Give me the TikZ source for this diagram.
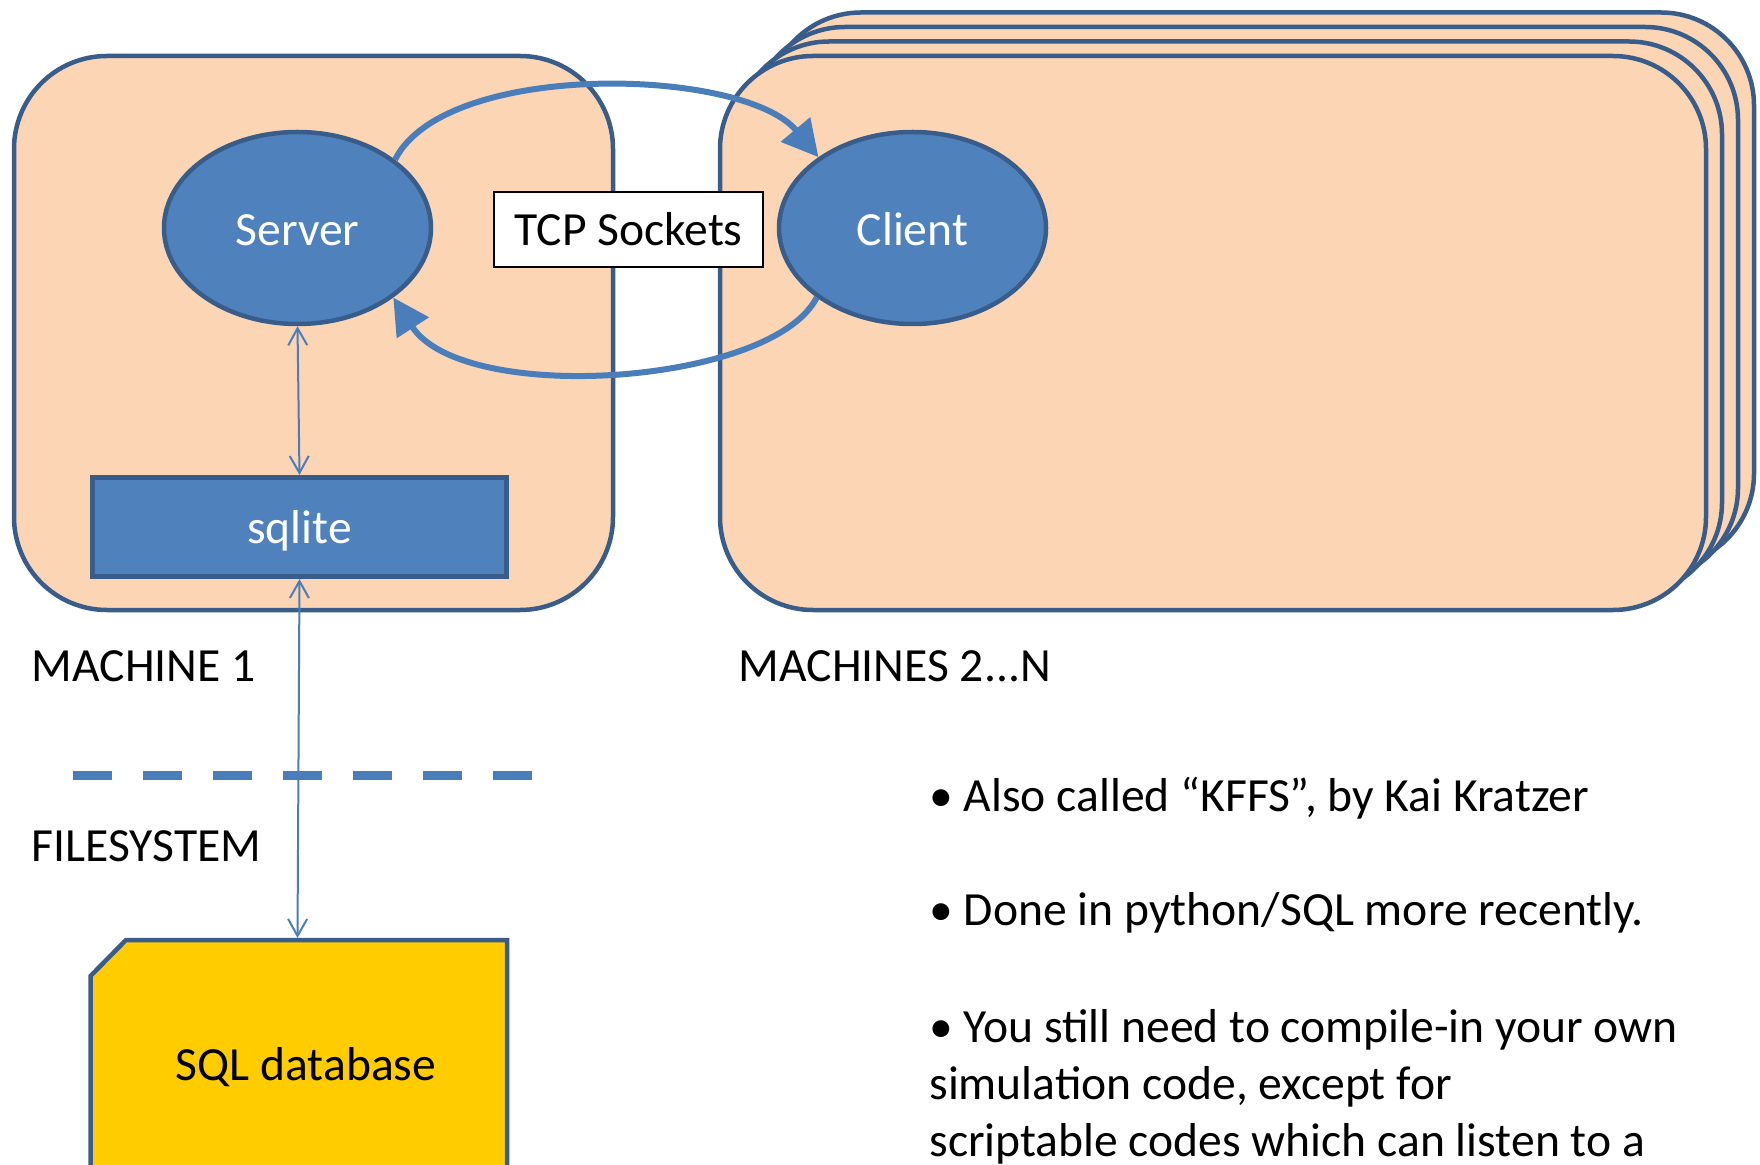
\documentclass[tikz,border=0pt]{standalone}
\usepackage{fontspec}
\setmainfont{Carlito}
\usetikzlibrary{arrows.meta,shapes.geometric}
\definecolor{peach}{HTML}{FCD5B5}
\definecolor{edgeblue}{HTML}{385D8A}
\definecolor{fillblue}{HTML}{4F81BD}
\definecolor{lineblue}{HTML}{4A7EBB}
\definecolor{dbyellow}{HTML}{FFCC00}
\begin{document}
\begin{tikzpicture}[x=0.5pt,y=-0.5pt,
  every node/.style={inner sep=0pt, font=\fontsize{23.8}{28.5}\selectfont},
  machine/.style={rectangle, draw=edgeblue, line width=2.25pt, fill=peach,
    rounded corners=46.5pt, minimum height=277pt},
  proc/.style={ellipse, draw=edgeblue, line width=2.25pt, fill=fillblue,
    text=white, text height=18pt, text depth=0pt,
    minimum width=133.5pt, minimum height=96pt},
  store/.style={rectangle, draw=edgeblue, line width=2.5pt, fill=fillblue,
    text=white, text depth=0pt, minimum width=207pt, minimum height=49.5pt},
  tag/.style={rectangle, draw=black, line width=1pt, fill=white,
    minimum width=134.5pt, minimum height=37.5pt},
  msg/.style={draw=lineblue, line width=3pt, -{Triangle[length=18pt,width=18.5pt]}},
  link/.style={draw=lineblue, line width=1pt,
    {Straight Barb[length=8.5pt,width=9.5pt]}-{Straight Barb[length=8.5pt,width=9.5pt]}},
  lbl/.style={anchor=base west}
]
\clip (0,0) rectangle (1760,1165);
\fill[white] (0,0) rectangle (1760,1165);

% stack of client machines, back to front
\node[machine, minimum width=493pt] (back3) at (1261,289.5) {};
\node[machine, minimum width=493pt] (back2) at (1245,304) {};
\node[machine, minimum width=493pt] (back1) at (1229,318.5) {};
\node[machine, minimum width=493pt] (machines) at (1213,333) {};
% the server machine
\node[machine, minimum width=299.5pt] (machine1) at (313.5,333) {};

% processes and storage
\node[proc] (server) at (297.5,228) {Server};
\node[proc] (client) at (912.5,228) {Client};
\node[store] (sqlite) at (299.5,527) {sqlite};
\node[tag] (tcp) at (628.5,229.5) {TCP Sockets};

% database file on disk
\draw[draw=edgeblue, fill=dbyellow, line width=2.25pt]
  (90.5,1200) -- (90.5,976) -- (126,940) -- (507,940) -- (507,1200) -- cycle;
\coordinate (dbtop) at (297.5,938);
\node (db) at (306,1067) {SQL database};

% socket traffic
\draw[msg] (server.35) .. controls +(50,-100) and +(-75,-90) .. (client.143);
\draw[msg] (client.216) .. controls +(-45,88) and +(70,108) .. (server.-36);

% local access
\draw[link] (server.south) -- (sqlite.north);
\draw[link] (sqlite.south) -- (dbtop);

% machine / filesystem boundary
\draw[lineblue, line width=4.5pt, dash pattern=on 19.5pt off 15.5pt] (73,775.5) -- (533,775.5);

\node[lbl] (m1label) at (31.5,681) {MACHINE 1};
\node[lbl] (mnlabel) at (738.5,681) {MACHINES 2...N};
\node[lbl] (fslabel) at (31.5,861) {FILESYSTEM};

% notes
\node[lbl] (note1) at (929,811) {• Also called “KFFS”, by Kai Kratzer};
\node[lbl] (note2) at (929,925) {• Done in python/SQL more recently.};
\node[lbl, align=left] (note3) at (929,1156) {• You still need to compile-in your own\\simulation code, except for\\scriptable codes which can listen to a};
\end{tikzpicture}
\end{document}
